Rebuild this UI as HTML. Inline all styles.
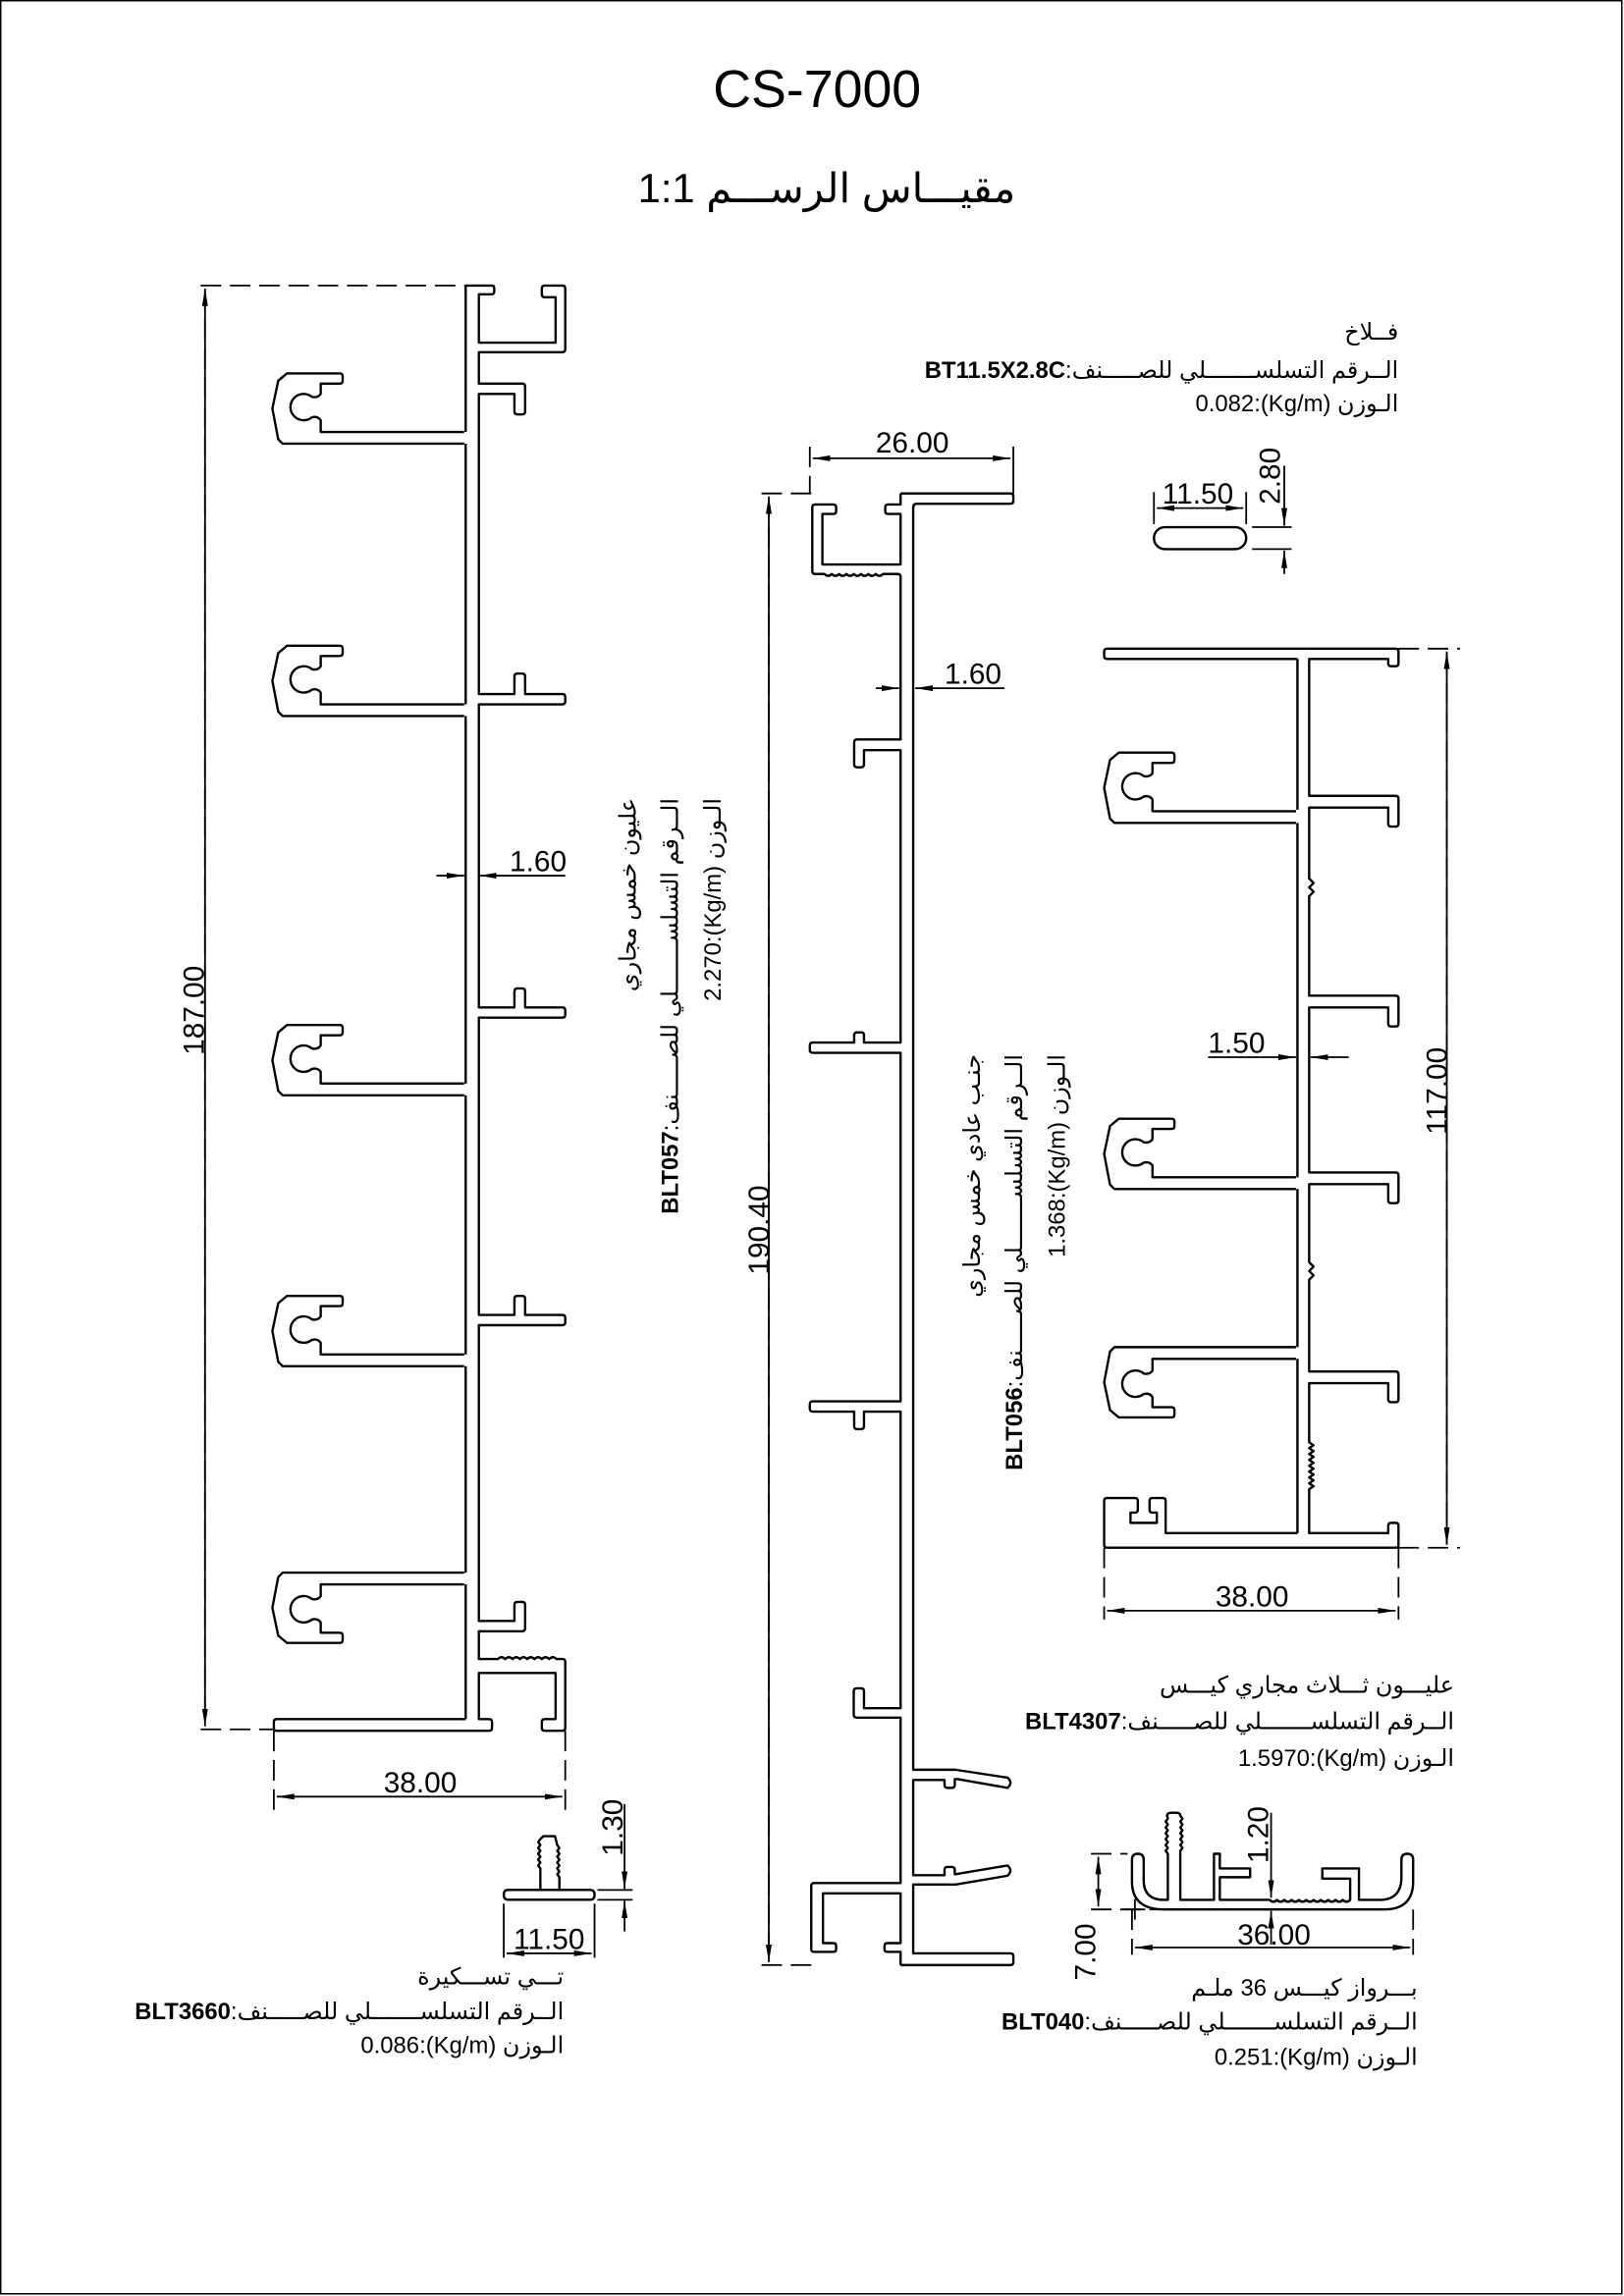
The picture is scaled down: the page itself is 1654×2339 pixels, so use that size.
<!DOCTYPE html>
<html><head><meta charset="utf-8">
<style>
html,body{margin:0;padding:0;background:#fff;}
body{width:1654px;height:2339px;overflow:hidden;}
#c{position:absolute;left:0;top:0;width:1109px;height:1568px;transform:scale(1.49144,1.49171);transform-origin:0 0;font-family:"Liberation Sans","DejaVu Sans",sans-serif;color:#000;}
svg{position:absolute;left:0;top:0;}
.t{position:absolute;font-size:16px;white-space:nowrap;line-height:22px;}
.r{text-align:right;}
.rot{position:absolute;width:320px;transform:rotate(-90deg);transform-origin:100% 0;text-align:right;font-size:16px;line-height:29px;white-space:nowrap;}
b{font-weight:bold;}
</style></head><body><div id="c">
<svg width="1109" height="1568" viewBox="0 0 1109 1568" xmlns="http://www.w3.org/2000/svg">
<defs>
<marker id="a" viewBox="0 0 12 4" refX="12" refY="2" markerWidth="12" markerHeight="4" orient="auto-start-reverse" markerUnits="userSpaceOnUse"><path d="M0,0 L12,2 L0,4z" fill="#000"/></marker>
<path id="hk" d="M131,40 H33 V32 Q31,29 27,30 A9 9 0 1 1 27,16 Q31,17 33,14 V7 H46 Q48,7 48,5 V2 Q48,0 46,0 H10 L4,5 L0,24 L4,45 L7,48 H131"/>
</defs>
<rect x="0.5" y="0.5" width="1107" height="1566" fill="none" stroke="#000" stroke-width="1"/>
<g font-family="Liberation Sans, DejaVu Sans, sans-serif" fill="#000">
<text x="558" y="73" font-size="36" text-anchor="middle">CS-7000</text>
</g>
<g fill="none" stroke="#000" stroke-width="1.6" stroke-linejoin="round">
<!-- LEFT PROFILE -->
<use href="#hk" transform="translate(186,255)"/>
<use href="#hk" transform="translate(186,441)"/>
<use href="#hk" transform="translate(186,700)"/>
<use href="#hk" transform="translate(186,885)"/>
<use href="#hk" transform="translate(186,1122) scale(1,-1)"/>
<path d="M318,195 V295 M318,303 V481 M318,489 V740 M318,748 V925 M318,933 V1074 M318,1082 V1174"/>
<path d="M318,195 H336 Q337.5,195 337.5,197 V199 Q337.5,201 335.5,201 H327 V234 H379.4 V203 H372 Q370,203 370,201 V197 Q370,195 372,195 H384 Q386,195 386,197 V238.5 Q386,240.5 384,240.5 H327 V262 H356.6 Q358.6,262 358.6,264 V281 Q358.6,283 356.6,283 H353.3 Q351.3,283 351.3,281 V269 H327 V474 H351.3 V462 Q351.3,460 353.3,460 H356.6 Q358.6,460 358.6,462 V474 H384 Q386,474 386,476 V479 Q386,481 384,481 H327 V688 H351.3 V677 Q351.3,675 353.3,675 H356.6 Q358.6,675 358.6,677 V688 H384 Q386,688 386,690 V693 Q386,695 384,695 H327 V898 H351.3 V887 Q351.3,885 353.3,885 H356.6 Q358.6,885 358.6,887 V898 H384 Q386,898 386,900 V903 Q386,905 384,905 H327 V1107 H351.3 V1096 Q351.3,1094 353.3,1094 H356.6 Q358.6,1094 358.6,1096 V1112 Q358.6,1114 356.6,1114 H327 V1133 H340 q2.5,-2.5 5,0 q2.5,-2.5 5,0 q2.5,-2.5 5,0 q2.5,-2.5 5,0 q2.5,-2.5 5,0 q2.5,-2.5 5,0 q2.5,-2.5 5,0 q2.5,-2.5 5,0 H384 Q386,1133 386,1135 V1180 Q386,1182 384,1182 H372 Q370,1182 370,1180 V1176 Q370,1174 372,1174 H379.4 V1142.5 H327 V1174 H334 Q336,1174 336,1176 V1180 Q336,1182 334,1182 H189 Q187,1182 187,1180 V1176 Q187,1174 189,1174 H318"/>
<!-- MIDDLE PROFILE -->
<path d="M615,337 H690 Q692,337 692,339 V342 Q692,344 690,344 H626 Q623.6,344 623.6,347 V1208.6 H652.5 L688,1214 Q692,1217.5 688,1221 L654,1215 H652 V1219 Q652,1221 650,1221 H647 Q645,1221 645,1219 V1215.6 H623.6 V1280.6 H645 V1277 Q645,1275 647,1275 H650 Q652,1275 652,1277 V1280 L688,1274 Q692,1277.5 688,1281 L652.5,1287 H623.6 V1334 H690 Q692,1334 692,1336 V1340 Q692,1342 690,1342 H615"/>
<path d="M615,337 V344.5 H606.5 Q604.5,344.5 604.5,346.5 V349 Q604.5,351 606.5,351 H615 V385.5 H561.6 V351 H569 Q571,351 571,349 V346.5 Q571,344.5 569,344.5 H556.7 Q554.7,344.5 554.7,346.5 V390 Q554.7,392 556.7,392 H563 q2.5,2.5 5,0 q2.5,2.5 5,0 q2.5,2.5 5,0 q2.5,2.5 5,0 q2.5,2.5 5,0 q2.5,2.5 5,0 q2.5,2.5 5,0 q2.5,2.5 5,0 H613 Q615,392 615,394 V505 H585.3 Q583.3,505 583.3,507 V522 Q583.3,524 585.3,524 H588 Q590,524 590,522 V512.3 H615 V712 H590 V707 Q590,705 588,705 H585.3 Q583.3,705 583.3,707 V712 H555 Q553,712 553,714 V717 Q553,719 555,719 H615 V957 H555 Q553,957 553,959 V962 Q553,964 555,964 H583.3 V974 Q583.3,976 585.3,976 H588 Q590,976 590,974 V964 H615 V1166.6 H590 V1155 Q590,1153 588,1153 H585 Q583,1153 583,1155 V1171 Q583,1173 585,1173 H615 V1286 H556 Q554,1286 554,1288 V1331 Q554,1333 556,1333 H569 Q571,1333 571,1331 V1329 Q571,1327 569,1327 H562 V1293 H615 V1327 H606 Q604,1327 604,1329 V1331 Q604,1333 606,1333 H615 V1342"/>
<!-- RIGHT PROFILE -->
<use href="#hk" transform="translate(754,514)"/>
<use href="#hk" transform="translate(754,764)"/>
<use href="#hk" transform="translate(754,968) scale(1,-1)"/>
<path d="M886,450 V553 M886,562 V804 M886,812 V920 M886,928 V1047"/>
<path d="M886,450 H756 Q754,450 754,448 V445 Q754,443 756,443 H953 Q955,443 955,445 V453 Q955,455 953,455 H950 Q948,455 948,453 V450 H894 V543.5 H953 Q955,543.5 955,545.5 V562.5 Q955,564.5 953,564.5 H950 Q948,564.5 948,562.5 V551.5 H894 V600 l3,3 -3,3 l3,3 -3,3 V680 H953 Q955,680 955,682 V699 Q955,701 953,701 H950 Q948,701 948,699 V688 H894 V800.7 H953 Q955,800.7 955,802.7 V819.7 Q955,821.7 953,821.7 H950 Q948,821.7 948,819.7 V808.7 H894 V862 l3,3 -3,3 l3,3 -3,3 V936.6 H953 Q955,936.6 955,938.6 V955.6 Q955,957.6 953,957.6 H950 Q948,957.6 948,955.6 V944.6 H894 V985 l3,2 -3,2 l3,2 -3,2 l3,2 -3,2 l3,2 -3,2 l3,2 -3,2 l3,2 -3,2 l3,2 -3,2 l3,2 -3,2 V1047 H948 V1042 Q948,1040 950,1040 H953 Q955,1040 955,1042 V1055 Q955,1057 953,1057 H756 Q754,1057 754,1055 V1025 Q754,1023 756,1023 H775 Q777,1023 777,1025 V1031 Q777,1033 775,1033 H772 V1040 H790 V1033 H787 Q785,1033 785,1031 V1025 Q785,1023 787,1023 H794 Q796,1023 796,1025 V1047 H886"/>
<!-- SLOT -->
<rect x="788" y="360" width="63" height="15" rx="7.5"/>
<!-- BLT3660 T -->
<path d="M347,1290.7 H403 Q406,1290.7 406,1294 Q406,1297.4 403,1297.4 H347 Q344,1297.4 344,1294 Q344,1290.7 347,1290.7 Z"/>
<path d="M369,1290.7 V1276 l-1.5,-2 1.5,-2 -1.5,-2 1.5,-2 -1.5,-2 1.5,-2 -1.5,-2 1.5,-2 -1.5,-2 1.5,-2 L371,1254 H379 L380.5,1260 l1.5,2 -1.5,2 1.5,2 -1.5,2 1.5,2 -1.5,2 1.5,2 -1.5,2 1.5,2 -1.5,2 1.5,2 V1290.7"/>
<!-- BLT040 -->
<path d="M777,1266 Q773,1266 773,1270 V1285 Q773,1304 795,1304 H945 Q965,1304 965,1285 V1270 Q965,1266 961,1266 Q957,1266 957,1270 V1282 Q957,1297.5 942,1297.5 H928 V1276 H903 V1283 H922 V1297.5 q-2.5,2.5 -5,0 q-2.5,2.5 -5,0 q-2.5,2.5 -5,0 q-2.5,2.5 -5,0 q-2.5,2.5 -5,0 q-2.5,2.5 -5,0 q-2.5,2.5 -5,0 q-2.5,2.5 -5,0 q-2.5,2.5 -5,0 q-2.5,2.5 -5,0 q-2.5,2.5 -5,0 H833 V1282 H853.7 V1276 H833 V1266 H829 V1297.5 H806 V1264 l1.5,-2 -1.5,-2 1.5,-2 -1.5,-2 1.5,-2 -1.5,-2 1.5,-2 -1.5,-2 1.5,-2 -1.5,-2 1.5,-2 -1.5,-2 L806,1240 Q806,1238 803,1238 H800 Q797,1238 797,1240 L797.5,1242 l-1.5,2 1.5,2 -1.5,2 1.5,2 -1.5,2 1.5,2 -1.5,2 1.5,2 -1.5,2 1.5,2 -1.5,2 1.5,2 V1297.5 H795 Q781,1297.5 781,1284 V1270 Q781,1266 777,1266 Z"/>
</g>
<!-- DIMENSIONS -->
<g fill="none" stroke="#000" stroke-width="1.2">
<g stroke-dasharray="14 6">
<path d="M137,195 H318 M137,1181 H187 M140,198 V1178"/>
<path d="M187,1182 V1236 M386,1182 V1236"/>
<path d="M520,337 H554 M520,1342 H554 M525,340 V1338"/>
<path d="M553,305 V337"/>
<path d="M955,443 H997 M955,1057 H997 M988,446 V1054"/>
<path d="M754,1057 V1106 M955,1057 V1106"/>
<path d="M745,1266 H770 M745,1304 H790 M773,1304 V1335 M965,1304 V1335"/>
</g>
<path d="M140,197 V1179" marker-start="url(#a)" marker-end="url(#a)"/>
<path d="M189,1227 H384" marker-start="url(#a)" marker-end="url(#a)"/>
<path d="M298,598 H317" marker-end="url(#a)"/>
<path d="M386,598 H327" marker-end="url(#a)"/>
<path d="M692,305 V337"/>
<path d="M555,313 H690" marker-start="url(#a)" marker-end="url(#a)"/>
<path d="M525,339 V1340" marker-start="url(#a)" marker-end="url(#a)"/>
<path d="M598,470 H614" marker-end="url(#a)"/>
<path d="M686,470 H625" marker-end="url(#a)"/>
<path d="M988,445 V1055" marker-start="url(#a)" marker-end="url(#a)"/>
<path d="M756,1100 H953" marker-start="url(#a)" marker-end="url(#a)"/>
<path d="M825,722 H885" marker-end="url(#a)"/>
<path d="M921,722 H895" marker-end="url(#a)"/>
<path d="M788,336 V358 M851,336 V358"/>
<path d="M790,347 H849" marker-start="url(#a)" marker-end="url(#a)"/>
<path d="M855,360 H882 M855,375 H882"/>
<path d="M877,318 V359" marker-end="url(#a)"/>
<path d="M877,392 V376" marker-end="url(#a)"/>
<path d="M408,1290.7 H432 M408,1297.4 H432"/>
<path d="M426.5,1232 V1290" marker-end="url(#a)"/>
<path d="M426.5,1319 V1298" marker-end="url(#a)"/>
<path d="M344,1300 V1337 M406,1300 V1337"/>
<path d="M346,1334 H404" marker-start="url(#a)" marker-end="url(#a)"/>
<path d="M750,1268 V1302" marker-start="url(#a)" marker-end="url(#a)"/>
<path d="M775,1330 H963" marker-start="url(#a)" marker-end="url(#a)"/>
<path d="M868,1238 V1296" marker-end="url(#a)"/>
<path d="M868,1328 V1305" marker-end="url(#a)"/>
<path d="M768,1304 H782 M775,1297 V1311"/>
</g>
<g font-family="Liberation Sans, DejaVu Sans, sans-serif" fill="#000" font-size="20">
<text transform="translate(139,690) rotate(-90)" text-anchor="middle">187.00</text>
<text x="287" y="1224" text-anchor="middle">38.00</text>
<text x="348" y="595">1.60</text>
<text x="623" y="309" text-anchor="middle">26.00</text>
<text transform="translate(525,840) rotate(-90)" text-anchor="middle">190.40</text>
<text x="645" y="467">1.60</text>
<text transform="translate(988,745) rotate(-90)" text-anchor="middle">117.00</text>
<text x="855" y="1097" text-anchor="middle">38.00</text>
<text x="825" y="719">1.50</text>
<text x="818" y="344" text-anchor="middle">11.50</text>
<text transform="translate(874,325) rotate(-90)" text-anchor="middle">2.80</text>
<text transform="translate(425,1248) rotate(-90)" text-anchor="middle">1.30</text>
<text x="375" y="1331" text-anchor="middle">11.50</text>
<text transform="translate(748,1333) rotate(-90)" text-anchor="middle">7.00</text>
<text transform="translate(866,1253) rotate(-90)" text-anchor="middle">1.20</text>
<text x="870" y="1328" text-anchor="middle">36.00</text>
</g>
</svg>

<div class="t" style="left:0;width:1109px;top:110px;text-align:center;font-size:28px;line-height:38px;margin-left:10px;">1:1 <span>مقيـــاس الرســـم</span></div>

<!-- BT11.5X2.8C -->
<div class="t r" style="right:154px;top:217px;">فــلاخ</div>
<div class="t r" style="right:154px;top:243px;"><b>BT11.5X2.8C</b>:<span>الــرقم التسلســـــــلي للصـــــنف</span></div>
<div class="t r" style="right:154px;top:266px;">0.082:(Kg/m) <span>الـوزن</span></div>

<!-- BLT4307 -->
<div class="t r" style="right:116px;top:1141px;">عليـــون ثـــلاث مجاري كيـــس</div>
<div class="t r" style="right:116px;top:1166px;"><b>BLT4307</b>:<span>الــرقم التسلســـــــلي للصـــــنف</span></div>
<div class="t r" style="right:116px;top:1191px;">1.5970:(Kg/m) <span>الـوزن</span></div>

<!-- BLT3660 -->
<div class="t r" style="right:724px;top:1340px;">تـــي تســـكيرة</div>
<div class="t r" style="right:724px;top:1364px;"><b>BLT3660</b>:<span>الــرقم التسلســـــــلي للصـــــنف</span></div>
<div class="t r" style="right:724px;top:1387px;">0.086:(Kg/m) <span>الـوزن</span></div>

<!-- BLT040 -->
<div class="t r" style="right:141px;top:1348px;">بـــرواز كيـــس 36 ملـم</div>
<div class="t r" style="right:141px;top:1371px;"><b>BLT040</b>:<span>الــرقم التسلســـــــلي للصـــــنف</span></div>
<div class="t r" style="right:141px;top:1395px;">0.251:(Kg/m) <span>الـوزن</span></div>

<!-- rotated BLT057 -->
<div class="rot" style="left:95px;top:545px;">
<div>عليون خمس مجاري</div>
<div><b>BLT057</b>:<span>الــرقم التسلســـــــلي للصـــــنف</span></div>
<div>2.270:(Kg/m) <span>الـوزن</span></div>
</div>
<!-- rotated BLT056 -->
<div class="rot" style="left:330px;top:720px;">
<div>جنـب عادي خمس مجاري</div>
<div><b>BLT056</b>:<span>الــرقم التسلســـــــلي للصـــــنف</span></div>
<div>1.368:(Kg/m) <span>الـوزن</span></div>
</div>
</div></body></html>
